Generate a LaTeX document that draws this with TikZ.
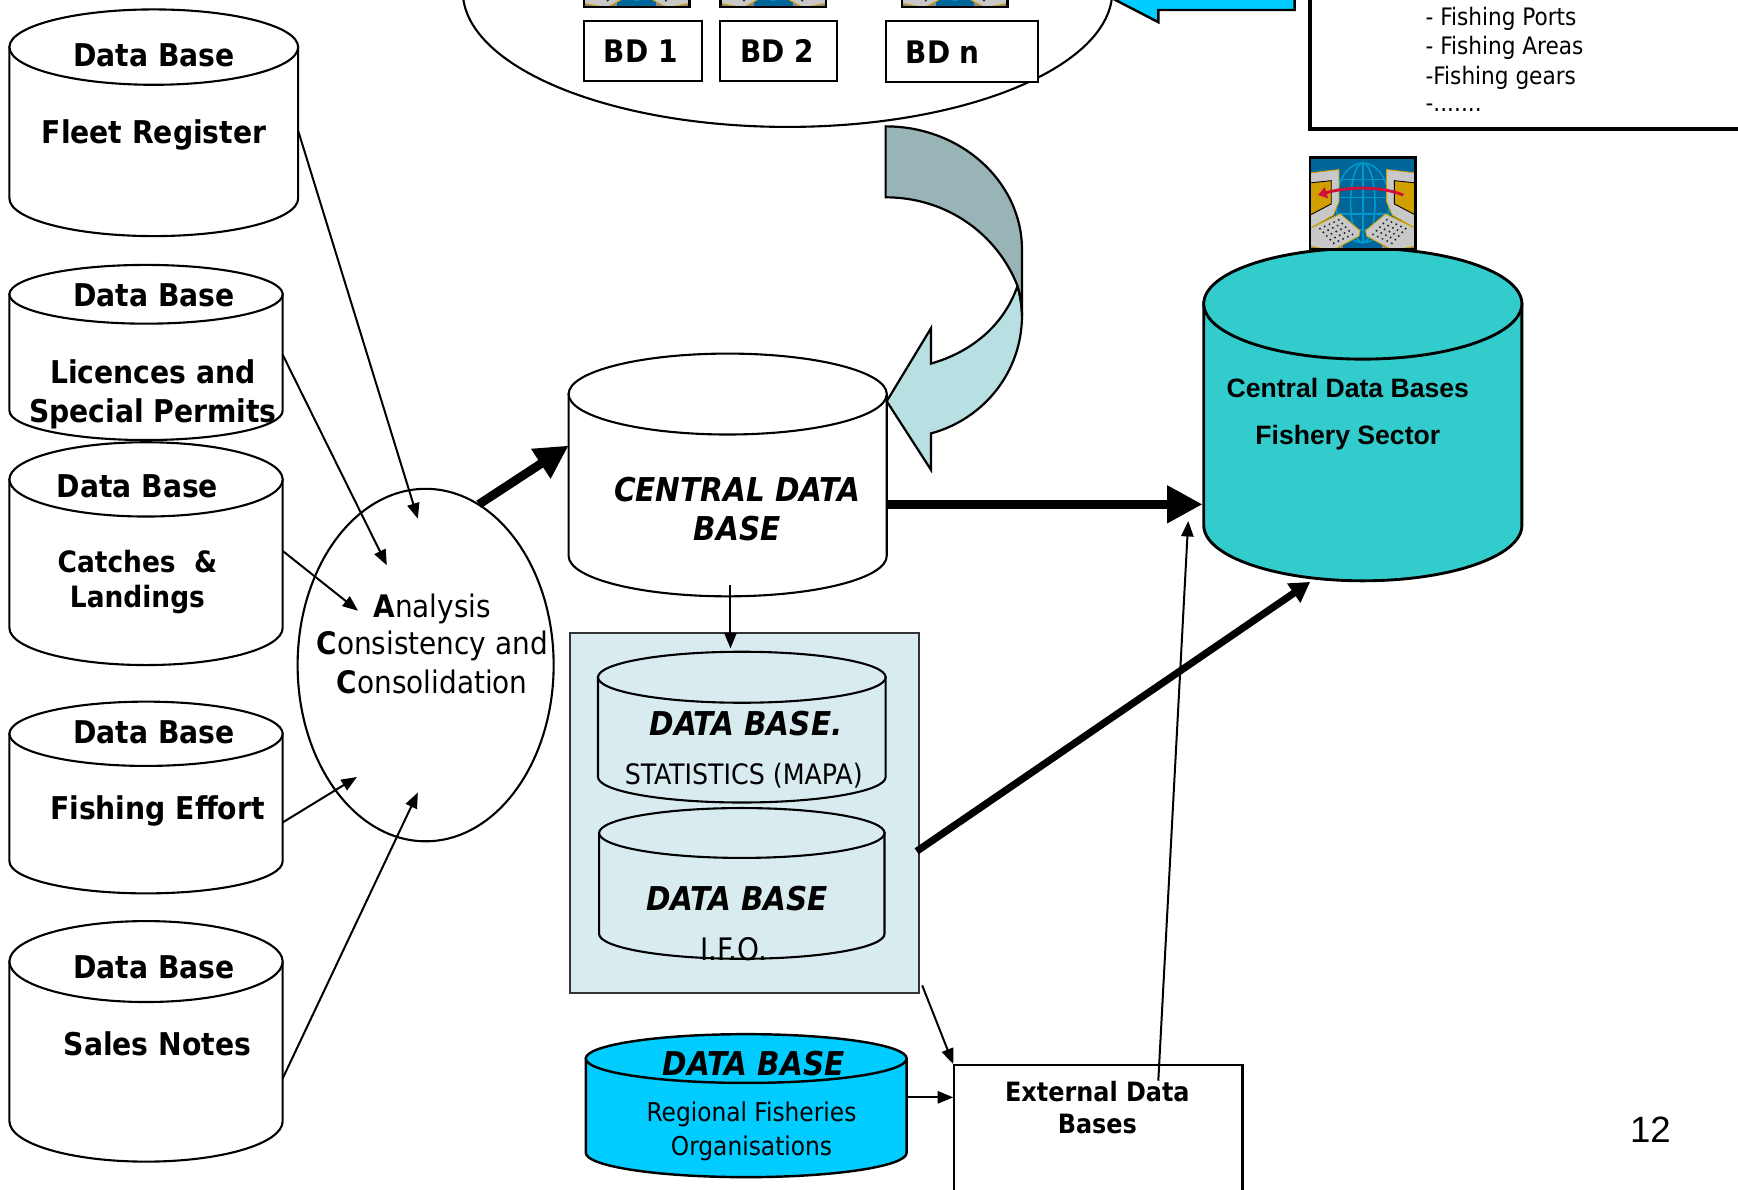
\documentclass[tikz,border=0pt]{standalone}
\usepackage{fontspec}
\usetikzlibrary{arrows.meta,shapes.geometric}
\setmainfont{DejaVu Sans Condensed}
\newfontfamily\arialf{Liberation Sans}
\definecolor{cyanfill}{HTML}{00CCFF}
\definecolor{tealfill}{HTML}{33CCCC}
\definecolor{palefill}{HTML}{D8ECEF}
\definecolor{darkarrow}{HTML}{98B4B6}
\definecolor{lightarrow}{HTML}{B8E0E3}
\definecolor{iconblue}{HTML}{006699}
\definecolor{globeblue}{HTML}{0099CC}
\definecolor{icongold}{HTML}{D29F00}
\definecolor{icongray}{HTML}{C8C8C8}
\definecolor{iconred}{HTML}{D0103A}
\tikzset{
  cylbody/.style={draw=black,line width=1.9pt,fill=white},
  boldtext/.style={font=\bfseries\fontsize{28.3}{31}\selectfont,inner sep=0pt,align=center},
  catchtext/.style={font=\bfseries\fontsize{26.5}{30}\selectfont,inner sep=0pt},
  bdtext/.style={font=\bfseries\fontsize{28}{31}\selectfont,inner sep=0pt},
  bolditalic/.style={font=\bfseries\itshape\fontsize{29.6}{32}\selectfont,inner sep=0pt},
  plaintext/.style={font=\fontsize{25.4}{28}\selectfont,inner sep=0pt},
  regiontext/.style={font=\fontsize{23.4}{26}\selectfont,inner sep=0pt},
  acctext/.style={font=\fontsize{28}{31}\selectfont,inner sep=0pt},
  smalltext/.style={font=\fontsize{21.7}{26}\selectfont,inner sep=0pt,anchor=west},
  arialbold/.style={font=\arialf\bfseries\fontsize{24}{28}\selectfont,inner sep=0pt},
  thin arrow/.style={line width=1.8pt,-{Triangle[length=14pt,width=11pt]}},
  fat arrow/.style={line width=8pt,-{Triangle[length=32pt,width=32pt]}},
  slant arrow/.style={line width=8pt,-{Triangle[length=30pt,width=30pt]}},
  mid arrow/.style={line width=6.5pt,-{Triangle[length=18pt,width=20pt]}},
  boxnode/.style={draw=black,fill=white,inner sep=0pt},
}
% name, x1, x2, ytop, ybot, ry, style
\newcommand{\dbcyl}[7]{%
  \pgfmathsetmacro{\cxx}{(#2+#3)/2}
  \pgfmathsetmacro{\rxx}{(#3-#2)/2}
  \pgfmathsetmacro{\yup}{#4+#6}
  \pgfmathsetmacro{\ydn}{#5-#6}
  \pgfmathsetmacro{\cpy}{\ydn+0.5523*#6}
  \pgfmathsetmacro{\cpl}{\cxx-0.5523*\rxx}
  \pgfmathsetmacro{\cpr}{\cxx+0.5523*\rxx}
  \pgfmathsetmacro{\cyy}{(#4+#5)/2}
  \pgfmathsetmacro{\www}{#3-#2}
  \pgfmathsetmacro{\hhh}{#5-#4}
  \draw[cylbody,#7] (#2,\yup) -- (#2,\ydn) .. controls (#2,\cpy) and (\cpl,#5) .. (\cxx,#5)
     .. controls (\cpr,#5) and (#3,\cpy) .. (#3,\ydn) -- (#3,\yup) -- cycle;
  \draw[cylbody,#7] (\cxx,\yup) ellipse [x radius=\rxx pt,y radius=#6 pt];
  \node[minimum width=\www pt,minimum height=\hhh pt,inner sep=0pt] (#1) at (\cxx,\cyy) {};
}
% icon: x, y of the top-left corner, horizontal size 95, vertical 83
\newcommand{\netIcon}[3]{%
  \begin{scope}[shift={(#2,#3)}]
    \node[fill=iconblue,minimum width=95pt,minimum height=83pt,inner sep=0pt] (#1) at (47.5,41.5) {};
    \begin{scope}
    \clip (0,0) rectangle (95,83);
    \draw[globeblue,line width=1.4pt] (47.5,41) ellipse [x radius=24pt,y radius=36pt];
    \draw[globeblue,line width=1.4pt] (47.5,41) ellipse [x radius=11pt,y radius=36pt];
    \draw[globeblue,line width=1.4pt] (47.5,5) -- (47.5,77) (28,20) -- (67,20) (24,36) -- (71,36) (24,51) -- (71,51) (29,65) -- (66,65);
    \foreach \sx/\ox in {1/0,-1/95}{
      \begin{scope}[shift={(\ox,0)},xscale=\sx]
        \fill[icongray,draw=icongold,line width=.8pt] (0,14) -- (26,11) -- (26,40) -- (21,52) -- (0,64) -- cycle;
        \fill[icongold,draw=black,line width=.8pt] (0,23) -- (19,21) -- (19,42) -- (0,52) -- cycle;
        \fill[black!45] (0,75) -- (30,75) -- (30,84) -- (0,84) -- cycle;
        \fill[icongray,draw=icongold,line width=.8pt] (0,64) -- (27,51) -- (45,66) -- (44,71) -- (20,84) -- (0,80) -- cycle;
        \foreach \a in {1,...,5}\foreach \b in {1,...,5}
          \fill[black!85] ({1.5+\a*4.25+\b*3.1},{63-\a*2+\b*3.3}) circle (1pt);
      \end{scope}}
    \draw[iconred,line width=2.6pt,-{Triangle[length=8pt,width=10pt]}] (84,34) .. controls (65,26) and (35,26) .. (7,34);
    \end{scope}
    \node[draw=black,line width=2pt,minimum width=95pt,minimum height=83pt,inner sep=0pt] at (47.5,41.5) {};
  \end{scope}
}
\begin{document}
\begin{tikzpicture}[x=1pt,y=-1pt]
\useasboundingbox (0,0) rectangle (1568,1073);
\clip (0,0) rectangle (1568,1073);

% top oval with the clipped icons and boxes
\node[draw=black,line width=1.9pt,fill=white,ellipse,inner sep=0pt,minimum width=586pt,minimum height=245pt] (topoval) at (710.5,-8) {};
\netIcon{iconA}{527}{-77}
\netIcon{iconB}{650}{-77}
\netIcon{iconC}{814}{-77}
\node[boxnode,line width=1.9pt,minimum width=106pt,minimum height=54pt] (bd1) at (580,46) {};
\node[bdtext] at (578,46) {BD 1};
\node[boxnode,line width=1.9pt,minimum width=106pt,minimum height=54pt] (bd2) at (702.5,46) {};
\node[bdtext] at (701,46) {BD 2};
\node[boxnode,line width=2.2pt,minimum width=137pt,minimum height=55pt] (bdn) at (868,46.5) {};
\node[bdtext,anchor=west] at (817,47) {BD n};

% cyan arrow pointing at the oval
\draw[line width=2.2pt,fill=cyanfill] (1168,-40) -- (1168,9) -- (1045,9) -- (1045,20) -- (987,-10) -- (1045,-40) -- cycle;

% top right box
\node[draw=black,line width=3.5pt,fill=white,minimum width=420pt,minimum height=160pt,inner sep=0pt,anchor=south west] (listbox) at (1179.75,118.25) {};
\node[smalltext] (t1) at (1286,17) {- Fishing Ports};
\node[smalltext] (t2) at (1286,43) {- Fishing Areas};
\node[smalltext] (t3) at (1286,70) {-Fishing gears};
\node[smalltext] (t4) at (1286,97) {-.......};

% left column
\dbcyl{fleet}{8.5}{269}{8.5}{213}{34}{}
\node[boldtext] (fleetA) at (139,49.5) {Data Base};
\node[boldtext] (fleetB) at (139,121.5) {Fleet Register};
\dbcyl{licences}{8.5}{255}{239}{397}{26.5}{}
\node[boldtext] (licA) at (139,266) {Data Base};
\node[boldtext] (licB) at (138,335) {Licences and};
\node[boldtext] (licC) at (138,373) {Special Permits};
\dbcyl{catches}{8.5}{255}{399}{600}{33.5}{}
\node[boldtext] (catA) at (124,439) {Data Base};
\node[catchtext] (catB) at (124,507) {Catches\ \ \&};
\node[catchtext] (catC) at (124,541) {Landings};
\dbcyl{effort}{8.5}{255}{633}{806}{29}{}
\node[boldtext] (effA) at (139,660.5) {Data Base};
\node[boldtext] (effB) at (142,732) {Fishing Effort};
\dbcyl{sales}{8.5}{255}{831}{1048}{36.5}{}
\node[boldtext] (salA) at (139,873) {Data Base};
\node[boldtext] (salB) at (142,942) {Sales Notes};

% analysis oval
\node[draw=black,line width=1.9pt,fill=white,ellipse,inner sep=0pt,minimum width=231pt,minimum height=318pt] (acc) at (384,600) {};
\node[acctext] (accA) at (390,549) {\textbf{A}nalysis};
\node[acctext] (accB) at (390,583) {\textbf{C}onsistency and};
\node[acctext] (accC) at (390,615.5) {\textbf{C}onsolidation};

% central data base
\dbcyl{central}{513}{800}{319}{538}{36.5}{}
\node[bolditalic] (cenA) at (665,442) {CENTRAL DATA};
\node[bolditalic] (cenB) at (665,477) {BASE};

% curved arrow
\draw[line width=2pt,fill=lightarrow] (918,258) .. controls (905,295) and (875,318) .. (840,328) -- (840,296) -- (800,362) -- (840,424) -- (840,391) .. controls (888,378) and (922,335) .. (922,285) .. controls (922,275) and (920,265) .. (918,258) -- cycle;
\draw[line width=2pt,fill=darkarrow] (799,114) .. controls (868,114) and (922,165) .. (922,225) -- (922,285) .. controls (922,275) and (920,265) .. (918,258) .. controls (900,212) and (855,178) .. (799,178) -- cycle;

% pale box
\node[draw=black!80,line width=1.8pt,fill=palefill,minimum width=315pt,minimum height=325pt,inner sep=0pt] (pale) at (671.5,733.5) {};
\dbcyl{stats}{539.5}{799}{588}{724}{23}{fill=palefill}
\node[bolditalic] (stA) at (673,653) {DATA BASE.};
\node[plaintext] (stB) at (671,699.5) {STATISTICS (MAPA)};
\dbcyl{ieo}{540.5}{798}{729}{865}{22.5}{fill=palefill}
\node[bolditalic] (ieA) at (665,811) {DATA BASE};
\node[acctext] (ieB) at (662,856) {I.F.O.};

% regional
\dbcyl{regional}{528.5}{818}{933}{1062}{22}{fill=cyanfill,line width=2.2pt}
\node[bolditalic] (reA) at (680,959.5) {DATA BASE};
\node[regiontext] (reB) at (678,1005.5) {Regional Fisheries};
\node[regiontext] (reC) at (678,1036) {Organisations};

% external
\node[draw=black,line width=2.4pt,fill=white,minimum width=260pt,minimum height=140pt,inner sep=0pt,anchor=north west] (external) at (859.5,959.5) {};
\node[boldtext,font=\bfseries\fontsize{24}{29}\selectfont] (exA) at (990,999.5) {External Data\\Bases};

% sector
\dbcyl{sector}{1086}{1373}{224}{524}{50}{fill=tealfill,line width=2.6pt}
\node[arialbold] (seA) at (1216,350) {Central Data Bases};
\node[arialbold] (seB) at (1216,395) {Fishery Sector};
\netIcon{iconD}{1182}{142}

\node[inner sep=0pt,font=\arialf\fontsize{33}{36}\selectfont] (pageno) at (1489,1019) {12};

% connector ends
\coordinate (fleetOut) at (269,118);
\coordinate (licOut) at (255,320);
\coordinate (catOut) at (255,497);
\coordinate (effOut) at (255,742);
\coordinate (salOut) at (255,973);
\coordinate (accIn1) at (377,468);
\coordinate (accIn2) at (349,510);
\coordinate (accIn3) at (323,551);
\coordinate (accIn4) at (322,701);
\coordinate (accIn5) at (377,715);
\coordinate (accOut) at (432,455);
\coordinate (cenIn) at (513,402);
\coordinate (cenOut) at (800,455);
\coordinate (secIn) at (1085,455);
\coordinate (cenDown) at (659,528);
\coordinate (paleIn) at (659,585);
\coordinate (paleOut) at (827,768);
\coordinate (secIn2) at (1182,525);
\coordinate (paleOut2) at (832,889);
\coordinate (extIn) at (860,960);
\coordinate (regOut) at (818,990);
\coordinate (extIn2) at (860,990);
\coordinate (extOut) at (1045,975);
\coordinate (secIn3) at (1072,470);

\draw[thin arrow] (fleetOut) -- (accIn1);
\draw[thin arrow] (licOut) -- (accIn2);
\draw[thin arrow] (catOut) -- (accIn3);
\draw[thin arrow] (effOut) -- (accIn4);
\draw[thin arrow] (salOut) -- (accIn5);
\draw[slant arrow] (accOut) -- (cenIn);
\draw[fat arrow] (cenOut) -- (secIn);
\draw[thin arrow] (cenDown) -- (paleIn);
\draw[mid arrow] (paleOut) -- (secIn2);
\draw[thin arrow] (paleOut2) -- (extIn);
\draw[thin arrow] (regOut) -- (extIn2);
\draw[thin arrow] (extOut) -- (secIn3);
\end{tikzpicture}
\end{document}
